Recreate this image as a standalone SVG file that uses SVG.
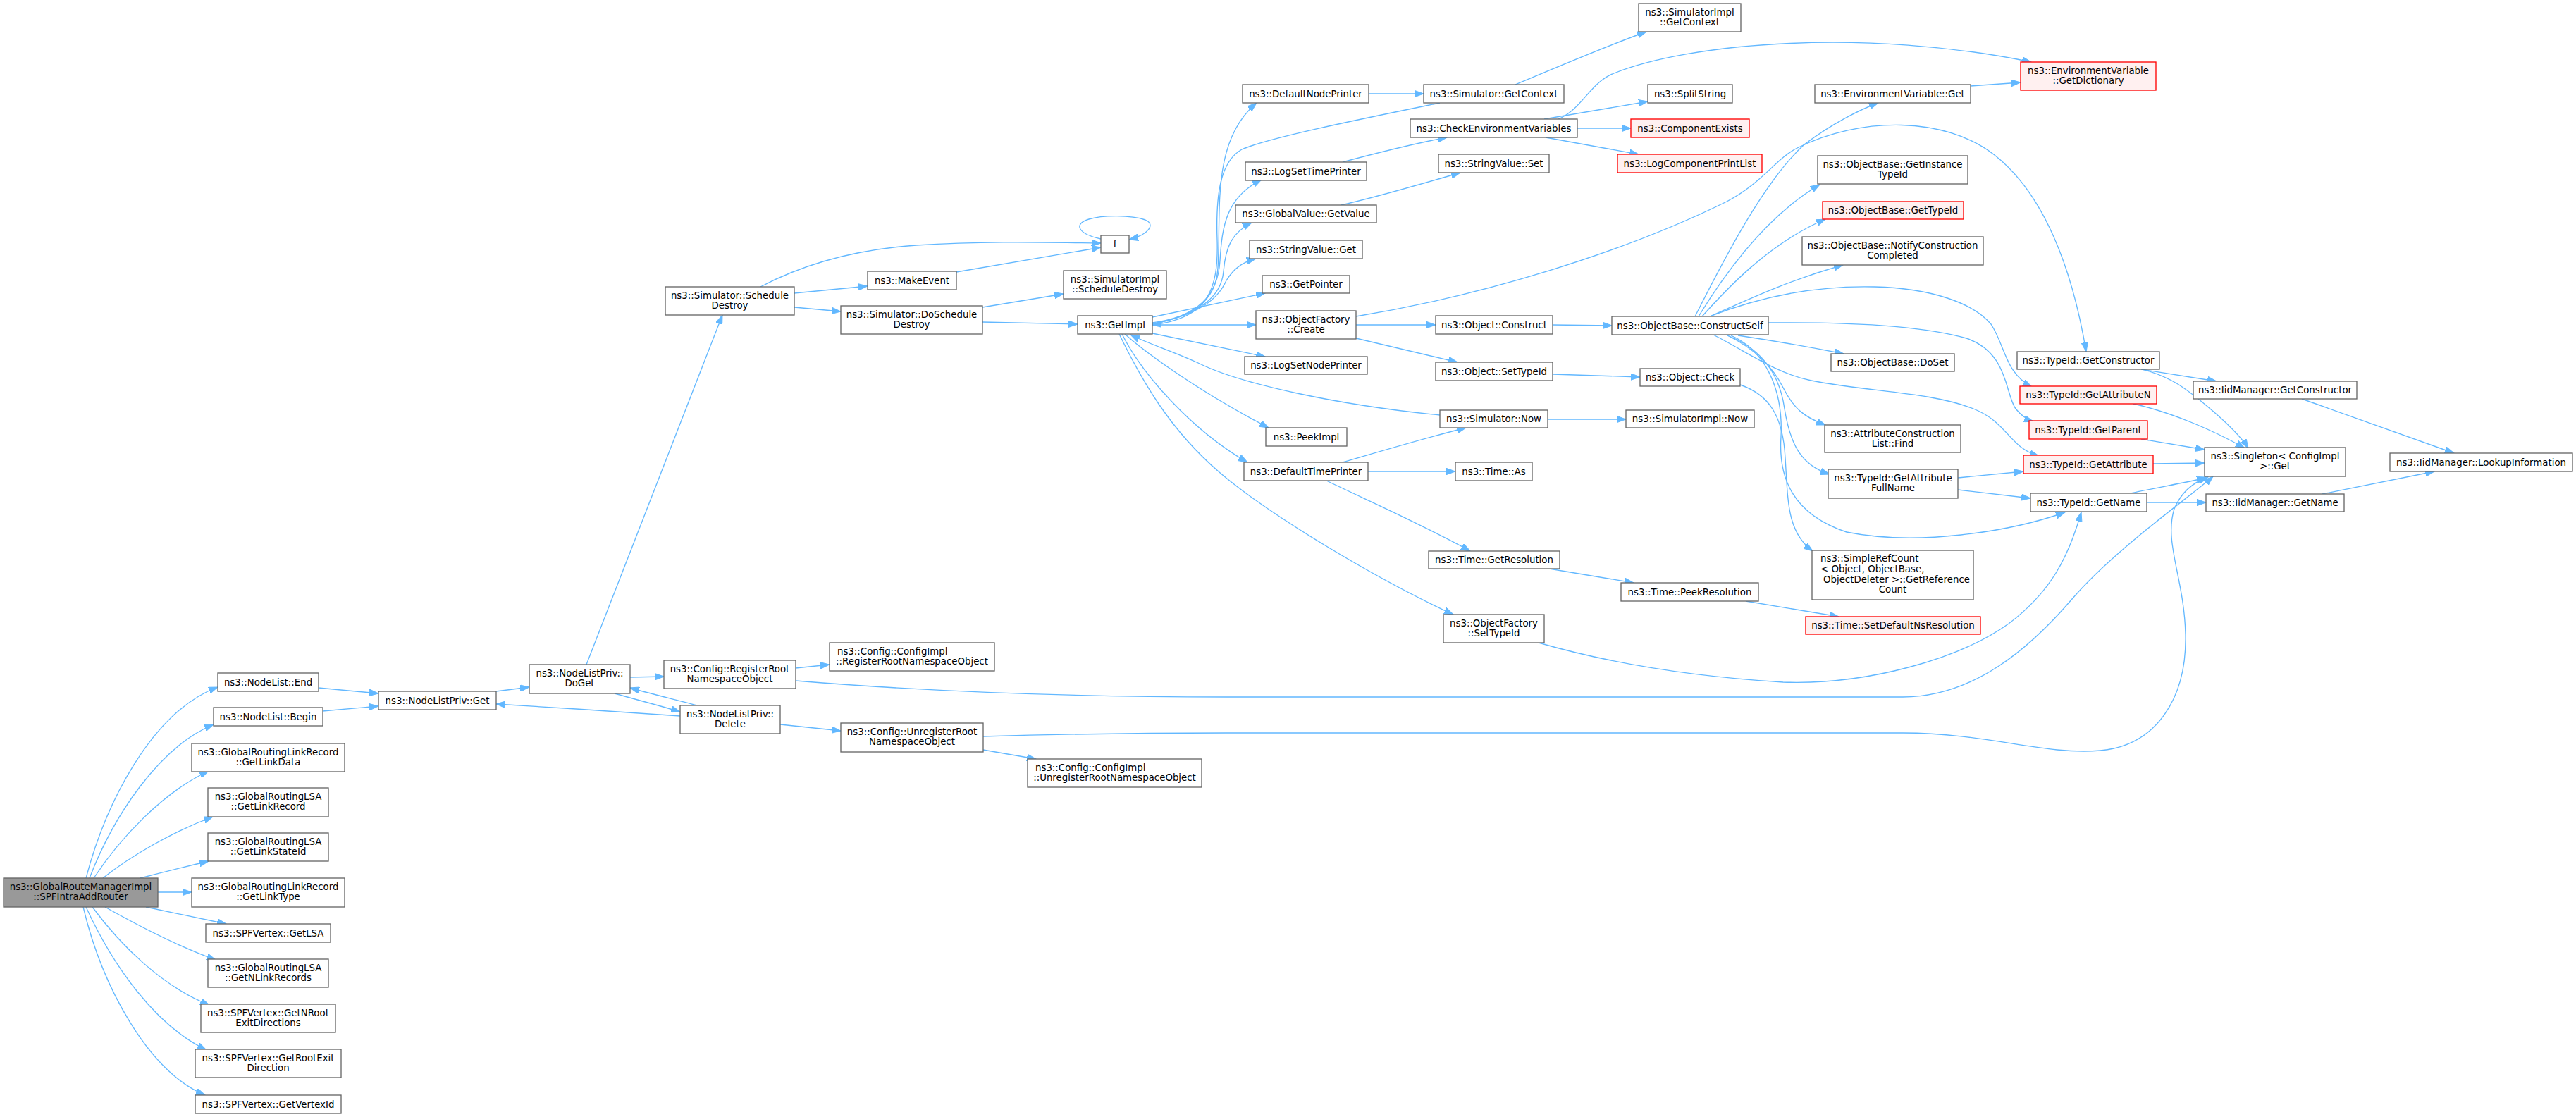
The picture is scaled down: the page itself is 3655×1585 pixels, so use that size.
<svg xmlns="http://www.w3.org/2000/svg" width="3655" height="1585" viewBox="0 0 3655 1585">
<style>
rect{fill:#ffffff;stroke:#666666;stroke-width:1.33}
.r rect{fill:#fff0f0;stroke:#ff0000}
.m rect{fill:#999999;stroke:#666666}
text{font-family:"DejaVu Sans","Liberation Sans",sans-serif;font-size:13.33px;text-anchor:middle;fill:#000000}
text.l{text-anchor:start}
#edges path{fill:none;stroke:#63b8ff;stroke-width:1.33;marker-end:url(#a)}
</style>
<defs>
<marker id="a" markerWidth="14" markerHeight="10" refX="13" refY="5" orient="auto" markerUnits="userSpaceOnUse">
<path d="M0,0.3 L13,5 L0,9.7 z" fill="#63b8ff" stroke="#63b8ff" stroke-width="1"/>
</marker>
</defs>
<rect x="0" y="0" width="3655" height="1585" style="fill:#ffffff;stroke:none"/>
<g id="edges">
<path d="M122,1246 C150,1140 215,1010 309,975"/>
<path d="M127,1246 C160,1160 225,1060 303,1028"/>
<path d="M133,1246 C170,1190 230,1125 296,1094"/>
<path d="M146,1246 C185,1215 245,1180 302,1159"/>
<path d="M199,1246 C230,1238 262,1230 296,1222"/>
<path d="M224,1266 L272,1266"/>
<path d="M207,1287 L321,1311"/>
<path d="M149,1287 C190,1310 250,1342 306,1362"/>
<path d="M131,1287 C170,1340 230,1400 297,1426"/>
<path d="M122,1287 C160,1370 220,1455 293,1490"/>
<path d="M118,1287 C145,1400 210,1520 291,1554"/>
<path d="M452,976 L537,984"/>
<path d="M458,1009 L537,1002"/>
<path d="M704,981 L751,975"/>
<path d="M832,943 L1025,447"/>
<path d="M894,961 L942,960"/>
<path d="M872,984 C900,992 935,1001 965,1010"/>
<path d="M989,1001 C960,993 925,985 894,976"/>
<path d="M965,1016 C880,1010 790,1004 704,999"/>
<path d="M1107,1028 L1193,1037"/>
<path d="M1129,948 L1177,943"/>
<path d="M1129,966 C1300,980 1500,989 1740,989 L2700,989 C2800,989 2880,920 2940,850 C3000,780 3110,703 3140,676"/>
<path d="M1395,1064 L1470,1077"/>
<path d="M1395,1045 C1500,1042 1600,1040 1740,1040 L2700,1040 C2820,1040 2900,1072 2980,1065 C3060,1058 3103,990 3101,900 C3099,820 3070,770 3085,722 C3095,698 3113,684 3133,677"/>
<path d="M1079,407 C1130,380 1200,355 1300,348 C1400,342 1480,344 1562,345"/>
<path d="M1127,416 L1231,406"/>
<path d="M1127,436 L1193,442"/>
<path d="M1357,386 L1562,351"/>
<path d="M1562,339 C1530,332 1522,318 1545,311 C1565,305 1605,305 1625,312 C1640,318 1630,333 1602,340"/>
<path d="M1394,436 L1509,417"/>
<path d="M1394,457 L1529,460"/>
<path d="M1635,458 C1690,450 1725,430 1728,380 C1733,300 1718,200 1783,146"/>
<path d="M2043,146 C1950,165 1800,195 1762,212 C1730,230 1725,280 1727,340 C1729,410 1715,452 1635,461"/>
<path d="M1635,460 C1700,447 1728,420 1731,370 C1734,320 1740,280 1790,255"/>
<path d="M1635,460 C1700,447 1733,422 1736,385 C1739,350 1748,330 1776,316"/>
<path d="M1635,460 C1700,447 1728,425 1740,398 C1750,382 1762,372 1782,367"/>
<path d="M1635,450 L1795,416"/>
<path d="M1635,461 L1782,461"/>
<path d="M1635,473 L1795,506"/>
<path d="M1596,474 C1625,500 1700,555 1800,607"/>
<path d="M1592,474 C1620,530 1690,610 1770,656"/>
<path d="M1588,474 C1620,540 1660,610 1730,670 C1800,730 1950,820 2062,872"/>
<path d="M2043,589 C1900,575 1760,545 1700,515 C1660,497 1630,488 1604,475"/>
<path d="M1942,133 L2020,133"/>
<path d="M2150,120 C2210,95 2280,65 2336,45"/>
<path d="M1905,230 C1950,218 2000,205 2053,195"/>
<path d="M1903,291 C1960,278 2020,260 2072,245"/>
<path d="M2191,169 L2338,144"/>
<path d="M2238,182 L2314,182"/>
<path d="M2193,195 L2325,219"/>
<path d="M2211,169 C2245,155 2255,118 2290,104 C2400,60 2650,40 2882,88"/>
<path d="M1924,461 L2037,461"/>
<path d="M1924,480 L2068,514"/>
<path d="M1924,449 C2100,420 2300,360 2450,286 C2500,260 2520,225 2550,210 C2640,165 2760,165 2830,220 C2900,275 2940,380 2960,499"/>
<path d="M2203,461 L2287,462"/>
<path d="M2203,531 L2327,535"/>
<path d="M2469,546 C2510,560 2530,590 2533,650 C2537,710 2535,755 2572,782"/>
<path d="M2456,476 C2510,500 2530,560 2527,620 C2523,680 2545,730 2620,755 C2720,775 2850,755 2930,727"/>
<path d="M2405,449 C2440,380 2500,260 2560,205 C2600,175 2640,155 2665,146"/>
<path d="M2410,449 C2440,400 2500,310 2582,262"/>
<path d="M2415,449 C2450,410 2510,345 2590,311"/>
<path d="M2426,449 C2470,430 2530,400 2615,376"/>
<path d="M2426,449 C2500,420 2580,405 2660,407 C2740,409 2800,430 2825,460 C2845,490 2845,530 2883,549"/>
<path d="M2509,458 C2600,457 2720,460 2790,480 C2850,500 2845,560 2860,580 C2868,590 2875,595 2885,598"/>
<path d="M2466,476 C2520,484 2570,493 2616,502"/>
<path d="M2431,475 C2480,500 2520,530 2570,540 C2650,556 2740,556 2800,580 C2850,600 2850,635 2893,647"/>
<path d="M2451,476 C2490,495 2515,520 2530,550 C2545,580 2560,592 2590,603"/>
<path d="M2451,476 C2500,495 2525,530 2532,580 C2540,630 2555,660 2596,673"/>
<path d="M2796,122 L2867,117"/>
<path d="M3038,524 L3145,541"/>
<path d="M3040,524 C3080,535 3100,550 3130,575 C3160,600 3180,620 3190,636"/>
<path d="M3027,573 C3080,585 3140,610 3185,636"/>
<path d="M3038,623 L3128,638"/>
<path d="M3055,658 L3128,657"/>
<path d="M2778,678 L2871,669"/>
<path d="M2778,695 L2881,707"/>
<path d="M3023,700 C3060,692 3100,685 3130,678"/>
<path d="M3046,713 L3130,713"/>
<path d="M3266,566 L3482,643"/>
<path d="M3295,701 L3454,669"/>
<path d="M2196,595 L2307,595"/>
<path d="M1905,656 C1960,640 2020,622 2080,607"/>
<path d="M1941,669 L2065,669"/>
<path d="M1882,682 C1940,710 2020,745 2086,782"/>
<path d="M2198,807 L2318,827"/>
<path d="M2477,853 L2609,875"/>
<path d="M2183,912 C2280,940 2400,960 2530,968 C2650,972 2780,935 2850,885 C2910,840 2935,790 2953,727"/>
</g>
<g id="n_main" class="m"><rect x="5" y="1246" width="219" height="41"/><text x="114.5" y="1263">ns3::GlobalRouteManagerImpl</text><text x="114.5" y="1277">::SPFIntraAddRouter</text></g>
<g id="n_nl_end"><rect x="309" y="955" width="143" height="26"/><text x="380.5" y="972.5">ns3::NodeList::End</text></g>
<g id="n_nl_begin"><rect x="303" y="1004" width="155" height="26"/><text x="380.5" y="1021.5">ns3::NodeList::Begin</text></g>
<g id="n_linkdata"><rect x="272" y="1055" width="217" height="40"/><text x="380.5" y="1072">ns3::GlobalRoutingLinkRecord</text><text x="380.5" y="1086">::GetLinkData</text></g>
<g id="n_linkrecord"><rect x="295" y="1118" width="171" height="41"/><text x="380.5" y="1135">ns3::GlobalRoutingLSA</text><text x="380.5" y="1149">::GetLinkRecord</text></g>
<g id="n_linkstateid"><rect x="295" y="1182" width="171" height="40"/><text x="380.5" y="1199">ns3::GlobalRoutingLSA</text><text x="380.5" y="1213">::GetLinkStateId</text></g>
<g id="n_linktype"><rect x="272" y="1246" width="217" height="41"/><text x="380.5" y="1263">ns3::GlobalRoutingLinkRecord</text><text x="380.5" y="1277">::GetLinkType</text></g>
<g id="n_getlsa"><rect x="292" y="1311" width="177" height="26"/><text x="380.5" y="1328.5">ns3::SPFVertex::GetLSA</text></g>
<g id="n_nlinkrecords"><rect x="295" y="1361" width="171" height="40"/><text x="380.5" y="1378">ns3::GlobalRoutingLSA</text><text x="380.5" y="1392">::GetNLinkRecords</text></g>
<g id="n_nrootexit"><rect x="285" y="1425" width="191" height="40"/><text x="380.5" y="1442">ns3::SPFVertex::GetNRoot</text><text x="380.5" y="1456">ExitDirections</text></g>
<g id="n_rootexit"><rect x="277" y="1489" width="207" height="40"/><text x="380.5" y="1506">ns3::SPFVertex::GetRootExit</text><text x="380.5" y="1520">Direction</text></g>
<g id="n_vertexid"><rect x="277" y="1554" width="207" height="26"/><text x="380.5" y="1571.5">ns3::SPFVertex::GetVertexId</text></g>
<g id="n_nlp_get"><rect x="537" y="981" width="167" height="26"/><text x="620.5" y="998.5">ns3::NodeListPriv::Get</text></g>
<g id="n_nlp_doget"><rect x="751" y="943" width="143" height="41"/><text x="822.5" y="960">ns3::NodeListPriv::</text><text x="822.5" y="974">DoGet</text></g>
<g id="n_sched_destroy"><rect x="944" y="407" width="183" height="40"/><text x="1035.5" y="424">ns3::Simulator::Schedule</text><text x="1035.5" y="438">Destroy</text></g>
<g id="n_reg_root"><rect x="942" y="937" width="187" height="40"/><text x="1035.5" y="954">ns3::Config::RegisterRoot</text><text x="1035.5" y="968">NamespaceObject</text></g>
<g id="n_nlp_delete"><rect x="965" y="1001" width="142" height="40"/><text x="1036" y="1018">ns3::NodeListPriv::</text><text x="1036" y="1032">Delete</text></g>
<g id="n_makeevent"><rect x="1231" y="385" width="126" height="26"/><text x="1294" y="402.5">ns3::MakeEvent</text></g>
<g id="n_dosched"><rect x="1193" y="434" width="201" height="40"/><text x="1293.5" y="451">ns3::Simulator::DoSchedule</text><text x="1293.5" y="465">Destroy</text></g>
<g id="n_cfgimpl_reg"><rect x="1177" y="912" width="234" height="40"/><text class="l" x="1188" y="929">ns3::Config::ConfigImpl</text><text x="1294" y="943">::RegisterRootNamespaceObject</text></g>
<g id="n_unreg_root"><rect x="1193" y="1026" width="202" height="41"/><text x="1294" y="1043">ns3::Config::UnregisterRoot</text><text x="1294" y="1057">NamespaceObject</text></g>
<g id="n_cfgimpl_unreg"><rect x="1458" y="1077" width="247" height="40"/><text class="l" x="1469" y="1094">ns3::Config::ConfigImpl</text><text x="1581.5" y="1108">::UnregisterRootNamespaceObject</text></g>
<g id="n_f"><rect x="1562" y="334" width="40" height="25"/><text x="1582" y="351">f</text></g>
<g id="n_simimpl_sched"><rect x="1509" y="384" width="146" height="40"/><text x="1582" y="401">ns3::SimulatorImpl</text><text x="1582" y="415">::ScheduleDestroy</text></g>
<g id="n_getimpl"><rect x="1529" y="448" width="106" height="26"/><text x="1582" y="465.5">ns3::GetImpl</text></g>
<g id="n_dnp"><rect x="1763" y="120" width="179" height="26"/><text x="1852.5" y="137.5">ns3::DefaultNodePrinter</text></g>
<g id="n_lstp"><rect x="1767" y="230" width="172" height="26"/><text x="1853" y="247.5">ns3::LogSetTimePrinter</text></g>
<g id="n_gvgv"><rect x="1753" y="291" width="200" height="25"/><text x="1853" y="308">ns3::GlobalValue::GetValue</text></g>
<g id="n_svget"><rect x="1773" y="341" width="160" height="26"/><text x="1853" y="358.5">ns3::StringValue::Get</text></g>
<g id="n_getptr"><rect x="1791" y="391" width="124" height="25"/><text x="1853" y="408">ns3::GetPointer</text></g>
<g id="n_of_create"><rect x="1782" y="441" width="142" height="40"/><text x="1853" y="458">ns3::ObjectFactory</text><text x="1853" y="472">::Create</text></g>
<g id="n_lsnp"><rect x="1766" y="506" width="174" height="25"/><text x="1853" y="523">ns3::LogSetNodePrinter</text></g>
<g id="n_peekimpl"><rect x="1796" y="607" width="115" height="26"/><text x="1853.5" y="624.5">ns3::PeekImpl</text></g>
<g id="n_dtp"><rect x="1765" y="656" width="176" height="26"/><text x="1853" y="673.5">ns3::DefaultTimePrinter</text></g>
<g id="n_of_settypeid"><rect x="2048" y="872" width="143" height="40"/><text x="2119.5" y="889">ns3::ObjectFactory</text><text x="2119.5" y="903">::SetTypeId</text></g>
<g id="n_sim_getctx"><rect x="2020" y="120" width="199" height="26"/><text x="2119.5" y="137.5">ns3::Simulator::GetContext</text></g>
<g id="n_simimpl_getctx"><rect x="2325" y="5" width="145" height="40"/><text x="2397.5" y="22">ns3::SimulatorImpl</text><text x="2397.5" y="36">::GetContext</text></g>
<g id="n_checkenv"><rect x="2001" y="169" width="237" height="26"/><text x="2119.5" y="186.5">ns3::CheckEnvironmentVariables</text></g>
<g id="n_sv_set"><rect x="2041" y="219" width="157" height="26"/><text x="2119.5" y="236.5">ns3::StringValue::Set</text></g>
<g id="n_obj_construct"><rect x="2037" y="448" width="166" height="26"/><text x="2120" y="465.5">ns3::Object::Construct</text></g>
<g id="n_obj_settypeid"><rect x="2037" y="514" width="166" height="26"/><text x="2120" y="531.5">ns3::Object::SetTypeId</text></g>
<g id="n_sim_now"><rect x="2043" y="582" width="153" height="25"/><text x="2119.5" y="599">ns3::Simulator::Now</text></g>
<g id="n_time_as"><rect x="2065" y="656" width="109" height="26"/><text x="2119.5" y="673.5">ns3::Time::As</text></g>
<g id="n_time_getres"><rect x="2027" y="782" width="186" height="25"/><text x="2120" y="799">ns3::Time::GetResolution</text></g>
<g id="n_splitstring"><rect x="2338" y="120" width="120" height="26"/><text x="2398" y="137.5">ns3::SplitString</text></g>
<g id="n_compexists" class="r"><rect x="2314" y="169" width="168" height="26"/><text x="2398" y="186.5">ns3::ComponentExists</text></g>
<g id="n_logcpl" class="r"><rect x="2295" y="219" width="205" height="26"/><text x="2397.5" y="236.5">ns3::LogComponentPrintList</text></g>
<g id="n_constructself"><rect x="2287" y="449" width="222" height="26"/><text x="2398" y="466.5">ns3::ObjectBase::ConstructSelf</text></g>
<g id="n_obj_check"><rect x="2327" y="523" width="142" height="25"/><text x="2398" y="540">ns3::Object::Check</text></g>
<g id="n_simimpl_now"><rect x="2307" y="582" width="182" height="25"/><text x="2398" y="599">ns3::SimulatorImpl::Now</text></g>
<g id="n_peekres"><rect x="2300" y="827" width="195" height="26"/><text x="2397.5" y="844.5">ns3::Time::PeekResolution</text></g>
<g id="n_envget"><rect x="2575" y="120" width="221" height="26"/><text x="2685.5" y="137.5">ns3::EnvironmentVariable::Get</text></g>
<g id="n_getinsttid"><rect x="2579" y="221" width="213" height="40"/><text x="2685.5" y="238">ns3::ObjectBase::GetInstance</text><text x="2685.5" y="252">TypeId</text></g>
<g id="n_ob_gettid" class="r"><rect x="2586" y="286" width="200" height="25"/><text x="2686" y="303">ns3::ObjectBase::GetTypeId</text></g>
<g id="n_notify"><rect x="2557" y="336" width="257" height="40"/><text x="2685.5" y="353">ns3::ObjectBase::NotifyConstruction</text><text x="2685.5" y="367">Completed</text></g>
<g id="n_doset"><rect x="2598" y="502" width="175" height="25"/><text x="2685.5" y="519">ns3::ObjectBase::DoSet</text></g>
<g id="n_aclfind"><rect x="2589" y="603" width="193" height="39"/><text x="2685.5" y="620">ns3::AttributeConstruction</text><text x="2685.5" y="634">List::Find</text></g>
<g id="n_fullname"><rect x="2594" y="666" width="184" height="41"/><text x="2686" y="683">ns3::TypeId::GetAttribute</text><text x="2686" y="697">FullName</text></g>
<g id="n_simplerefcount"><rect x="2571" y="781" width="229" height="70"/><text class="l" x="2583" y="797">ns3::SimpleRefCount</text><text class="l" x="2583" y="812">&lt; Object, ObjectBase,</text><text class="l" x="2587" y="827">ObjectDeleter &gt;::GetReference</text><text x="2685.5" y="841">Count</text></g>
<g id="n_setdefns" class="r"><rect x="2562" y="875" width="248" height="25"/><text x="2686" y="892">ns3::Time::SetDefaultNsResolution</text></g>
<g id="n_getdict" class="r"><rect x="2867" y="88" width="192" height="40"/><text x="2963" y="105">ns3::EnvironmentVariable</text><text x="2963" y="119">::GetDictionary</text></g>
<g id="n_tid_getctor"><rect x="2862" y="499" width="202" height="25"/><text x="2963" y="516">ns3::TypeId::GetConstructor</text></g>
<g id="n_tid_getattrn" class="r"><rect x="2866" y="548" width="194" height="25"/><text x="2963" y="565">ns3::TypeId::GetAttributeN</text></g>
<g id="n_tid_getparent" class="r"><rect x="2879" y="597" width="168" height="26"/><text x="2963" y="614.5">ns3::TypeId::GetParent</text></g>
<g id="n_tid_getattr" class="r"><rect x="2871" y="646" width="184" height="26"/><text x="2963" y="663.5">ns3::TypeId::GetAttribute</text></g>
<g id="n_tid_getname"><rect x="2881" y="700" width="165" height="26"/><text x="2963.5" y="717.5">ns3::TypeId::GetName</text></g>
<g id="n_iid_getctor"><rect x="3112" y="541" width="232" height="25"/><text x="3228" y="558">ns3::IidManager::GetConstructor</text></g>
<g id="n_singleton"><rect x="3128" y="635" width="200" height="41"/><text x="3228" y="652">ns3::Singleton&lt; ConfigImpl</text><text x="3228" y="666">&gt;::Get</text></g>
<g id="n_iid_getname"><rect x="3130" y="701" width="196" height="25"/><text x="3228" y="718">ns3::IidManager::GetName</text></g>
<g id="n_lookup"><rect x="3391" y="643" width="259" height="26"/><text x="3520.5" y="660.5">ns3::IidManager::LookupInformation</text></g>
</svg>
